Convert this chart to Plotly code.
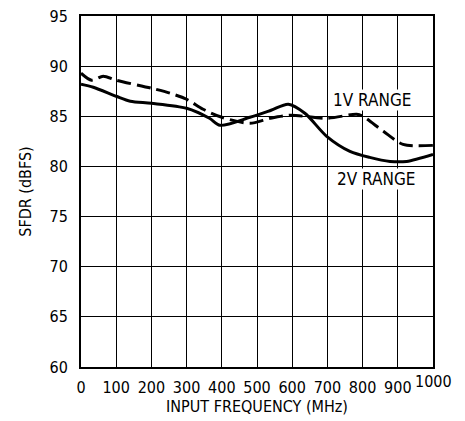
import plotly.graph_objects as go

freq_2v = [0, 35, 100, 140, 200, 300, 365, 395, 480, 540, 589, 636, 698, 764, 820, 878, 925, 1000]
sfdr_2v = [88.2, 87.9, 87.0, 86.5, 86.3, 85.8, 84.8, 84.1, 84.9, 85.6, 86.2, 85.3, 83.0, 81.5, 80.9, 80.5, 80.5, 81.2]

freq_1v = [0, 30, 63, 100, 200, 253, 300, 347, 400, 480, 537, 594, 698, 783, 801, 859, 915, 1000]
sfdr_1v = [89.3, 88.6, 89.0, 88.6, 87.8, 87.3, 86.7, 85.7, 84.9, 84.3, 84.8, 85.1, 84.8, 85.2, 85.0, 83.5, 82.2, 82.1]

x_ticks = [0, 100, 200, 300, 400, 500, 600, 700, 800, 900, 1000]
x_ticktext = ["0", "100", "200", "300", "400", "500", "600", "700", "800", "900", ""]
y_ticks = [60, 65, 70, 75, 80, 85, 90, 95]

FONT = "DejaVu Sans Condensed"
TITLE_FONT = dict(family=FONT, size=16, color="black")

fig = go.Figure()
fig.add_trace(go.Scatter(x=freq_1v, y=sfdr_1v, mode="lines",
                         line=dict(color="black", width=3, dash="14px,6px", shape="spline", smoothing=0.8)))
fig.add_trace(go.Scatter(x=freq_2v, y=sfdr_2v, mode="lines",
                         line=dict(color="black", width=3, shape="spline", smoothing=0.8)))

fig.update_layout(
    width=457, height=413,
    margin=dict(l=73, r=32, t=8, b=54, autoexpand=False),
    paper_bgcolor="white", plot_bgcolor="white",
    showlegend=False,
    font=dict(family=FONT, size=16, color="black"),
    xaxis=dict(range=[0, 1000], tickvals=x_ticks, ticktext=x_ticktext, automargin=False,
               showgrid=True, gridcolor="black", gridwidth=1,
               showline=True, linecolor="black", linewidth=2, mirror=True,
               zeroline=False, ticks="", ticklabelstandoff=5, ticklabeloverflow="allow",
               tickfont=dict(family=FONT, size=16, color="black"),
               title=dict(text="INPUT FREQUENCY (MHz)", standoff=5, font=TITLE_FONT)),
    yaxis=dict(range=[60, 95], tickvals=y_ticks, automargin=False,
               showgrid=True, gridcolor="black", gridwidth=1,
               showline=True, linecolor="black", linewidth=2, mirror=True,
               zeroline=False, ticks="", ticklabelstandoff=8, ticklabeloverflow="allow",
               tickfont=dict(family=FONT, size=16, color="black"),
               title=dict(text="SFDR (dBFS)", standoff=14, font=TITLE_FONT)),
)

fig.add_annotation(x=1000, y=60, text="1000", showarrow=False, xref="x", yref="y",
                   yanchor="top", yshift=-3, font=dict(family=FONT, size=16))
fig.add_annotation(x=828, y=86.6, text="1V RANGE", showarrow=False, bgcolor="white",
                   borderpad=0, font=dict(family=FONT, size=17))
fig.add_annotation(x=838, y=78.7, text="2V RANGE", showarrow=False, bgcolor="white",
                   borderpad=0, font=dict(family=FONT, size=17))

fig.write_html("out.html")
